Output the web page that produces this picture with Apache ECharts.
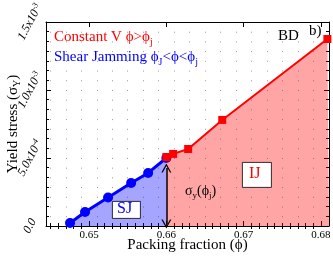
<!DOCTYPE html>
<html><head><meta charset="utf-8">
<script src="https://cdn.jsdelivr.net/npm/echarts@6/dist/echarts.min.js"></script>
<style>html,body{margin:0;padding:0;background:#fff}#c{width:333px;height:256px}</style>
</head><body><div id="c"></div>
<script>
var xMin = 0.64443, xMax = 0.68104;
var yMin = 0, yMax = 1.5e-3;
var xTicks = [0.65, 0.66, 0.67, 0.68];
var xTickLabels = ['0.65', '0.66', '0.67', '0.68'];
var yTicks = [0, 5e-4, 1e-3, 1.5e-3];
var yTickLabels = ['{b|0.0}', '{b|5.0x10}{s|-4}', '{b|1.0x10}{s|-3}', '{b|1.5x10}{s|-3}'];
var shearPhi = [0.64754, 0.64948, 0.65246, 0.65544, 0.65764, 0.6600];
var shearSigma = [2.2e-5, 1.03e-4, 2.1e-4, 3.16e-4, 3.9e-4, 5.0e-4];
var constPhi = [0.6600, 0.66088, 0.66282, 0.66723, 0.68083];
var constSigma = [5.07e-4, 5.3e-4, 5.66e-4, 7.8e-4, 1.375e-3];
var constEnd = [0.68104, 1.384e-3];
var arrowPhi = 0.66, arrowFrom = 1.5e-5, arrowTo = 4.26e-4;

var xMinor = [];
for (var v = 645; v <= 680; v++) { if (v % 10) xMinor.push(v / 1000); }
var xDots = [];
for (var d = 645; d <= 680; d += 2) xDots.push(d / 1000);

var serif = 'Liberation Serif';
var chart = echarts.init(document.getElementById('c'));
function xa(pos, opts) {
  return Object.assign({
    type: 'value', min: xMin, max: xMax, position: pos, gridIndex: 0,
    axisLine: { show: false }, axisLabel: { show: false },
    axisTick: { show: false }, splitLine: { show: false }
  }, opts);
}
var redData = constPhi.map(function (p, i) { return [p, constSigma[i]]; });
redData.push({ value: constEnd, symbol: 'none' });

chart.setOption({
  animation: false,
  grid: { left: 46, right: 4, top: 22, bottom: 30, containLabel: false, outerBoundsMode: 'none' },
  xAxis: [
    xa('bottom', {
      axisLine: { show: true, onZero: false, lineStyle: { color: '#000', width: 1 } },
      axisTick: { show: true, inside: true, length: 5, customValues: xTicks, lineStyle: { color: '#000' } },
      axisLabel: { show: true, customValues: xTicks, margin: 4, fontFamily: serif, fontSize: 11, color: '#000',
        formatter: function (val) { var i = xTicks.findIndex(function (t) { return Math.abs(t - val) < 1e-9; }); return i >= 0 ? xTickLabels[i] : ''; } },
      name: 'Packing fraction (ϕ)', nameLocation: 'middle', nameGap: 12, nameMoveOverlap: false,
      nameTextStyle: { fontFamily: serif, fontSize: 15, color: '#000' }
    }),
    xa('bottom', { axisTick: { show: true, inside: true, length: 3, customValues: xMinor, lineStyle: { color: '#000' } } }),
    xa('top', { axisLine: { show: true, onZero: false, lineStyle: { color: '#000' } },
      axisTick: { show: true, inside: true, length: 5, customValues: xTicks, lineStyle: { color: '#000' } } }),
    xa('top', { axisTick: { show: true, inside: true, length: 3, customValues: xMinor, lineStyle: { color: '#000' } } }),
    xa('bottom', { axisTick: { show: false, customValues: xDots },
      splitLine: { show: true, lineStyle: { color: 'rgba(0,0,0,0.4)', width: 1, type: [1, 8.71] } } })
  ],
  yAxis: [
    {
      type: 'value', min: yMin, max: yMax, interval: 5e-4, position: 'left',
      axisLine: { show: true, onZero: false, lineStyle: { color: '#000' } },
      axisTick: { show: true, inside: true, length: 5, lineStyle: { color: '#000' } },
      minorTick: { show: true, splitNumber: 7, length: 3, lineStyle: { color: '#000' } },
      splitLine: { show: false },
      axisLabel: { rotate: 62, margin: 16, align: 'center', verticalAlign: 'middle', color: '#000',
        formatter: function (val) { var i = yTicks.findIndex(function (t) { return Math.abs(t - val) < 1e-12; }); return i >= 0 ? yTickLabels[i] : ''; },
        rich: { b: { fontFamily: serif, fontSize: 12, fontStyle: 'italic' }, s: { fontFamily: serif, fontSize: 8, fontStyle: 'italic', verticalAlign: 'top', padding: [0, 0, 6, 0] } } },
      name: 'Yield stress (σ{s|Y})', nameLocation: 'middle', nameGap: 24, nameMoveOverlap: false,
      nameTextStyle: { fontFamily: serif, fontSize: 15, color: '#000', rich: { s: { fontFamily: serif, fontSize: 10, padding: [8, 0, 0, 0] } } }
    },
    {
      type: 'value', min: yMin, max: yMax, interval: 5e-4, position: 'right',
      axisLine: { show: true, onZero: false, lineStyle: { color: '#000' } },
      axisTick: { show: true, inside: true, length: 5, lineStyle: { color: '#000' } },
      minorTick: { show: true, splitNumber: 7, length: 3, lineStyle: { color: '#000' } },
      splitLine: { show: false }, axisLabel: { show: false }
    }
  ],
  series: [
    {
      type: 'line', xAxisIndex: 0, yAxisIndex: 0, z: 2,
      data: shearPhi.map(function (p, i) { return [p, shearSigma[i]]; }),
      symbol: 'circle', symbolSize: 10, showAllSymbol: true,
      itemStyle: { color: '#0000ff' }, lineStyle: { color: '#0000ff', width: 3 },
      areaStyle: { color: 'rgba(0,0,255,0.5)', origin: 'start' }
    },
    {
      type: 'line', xAxisIndex: 0, yAxisIndex: 0, z: 3,
      data: redData,
      symbol: 'rect', symbolSize: 8, showAllSymbol: true,
      itemStyle: { color: '#ff0000' }, lineStyle: { color: '#ff0000', width: 2 },
      areaStyle: { color: 'rgba(255,0,0,0.5)', origin: 'start' },
      markLine: {
        silent: true, symbol: ['path://M0,10 L5,0 L10,10 L8.6,10 L5,2.8 L1.4,10 Z', 'path://M0,10 L5,0 L10,10 L8.6,10 L5,2.8 L1.4,10 Z'],
        symbolSize: [10, 9], label: { show: false },
        lineStyle: { color: '#000', width: 1.5, type: 'solid' },
        data: [[{ coord: [arrowPhi, arrowFrom] }, { coord: [arrowPhi, arrowTo] }]]
      }
    }
  ],
  graphic: [
    { type: 'text', left: 54, top: 30, z: 10, style: { text: 'Constant V ϕ>ϕ{s|j}', fill: '#ff0000', font: '15px ' + serif,
      rich: { s: { fontSize: 10, fill: '#ff0000', fontFamily: serif, padding: [10, 0, 0, 0] } } } },
    { type: 'text', left: 54, top: 50, z: 10, style: { text: 'Shear Jamming ϕ{s|J}<ϕ<ϕ{s|j}', fill: '#0000ff', font: '15px ' + serif,
      rich: { s: { fontSize: 10, fill: '#0000ff', fontFamily: serif, padding: [10, 0, 0, 0] } } } },
    { type: 'text', left: 278, top: 29, z: 10, style: { text: 'BD', fill: '#000', font: '15px ' + serif } },
    { type: 'text', left: 309, top: 24, z: 10, style: { text: 'b)', fill: '#000', font: '15px ' + serif } },
    { type: 'rect', left: 112, top: 201, z: 10, shape: { width: 28, height: 17 }, style: { fill: '#fff', stroke: '#000', lineWidth: 0.8 } },
    { type: 'text', left: 117, top: 201, z: 11, style: { text: 'SJ', fill: '#0000ff', font: '16px ' + serif } },
    { type: 'rect', left: 242, top: 162, z: 10, shape: { width: 29, height: 25 }, style: { fill: '#fff', stroke: '#000', lineWidth: 0.8 } },
    { type: 'text', left: 249, top: 166, z: 11, style: { text: 'IJ', fill: '#ff0000', font: '16px ' + serif } },
    { type: 'text', left: 185, top: 184, z: 10, style: { text: 'σ{s|y}(ϕ{s|j})', fill: '#000', font: '14px ' + serif,
      rich: { s: { fontSize: 9, fill: '#000', fontFamily: serif, padding: [9, 0, 0, 0] } } } }
  ]
});
</script></body></html>
